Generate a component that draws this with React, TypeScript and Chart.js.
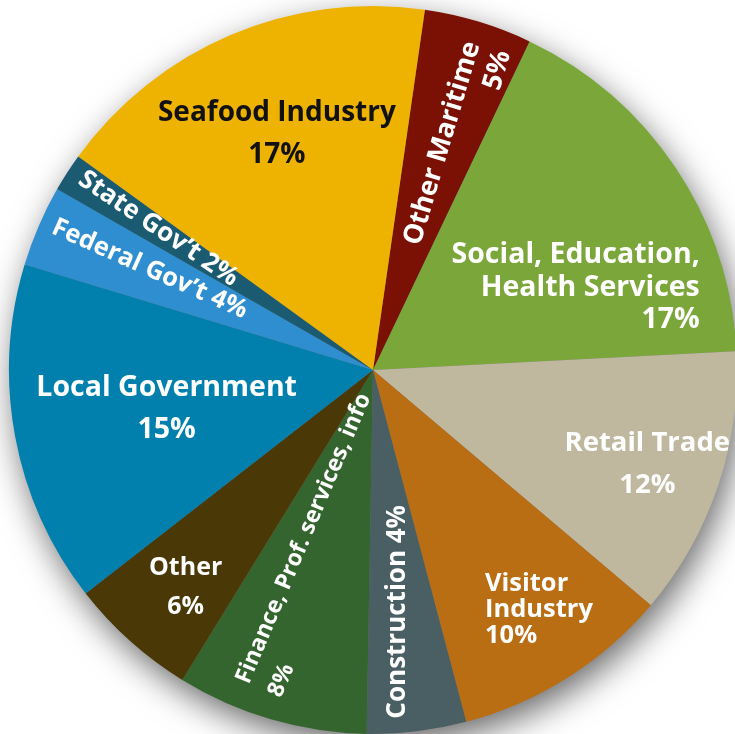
import React, { useEffect, useRef } from "react";
import { Chart, registerables } from "chart.js";

Chart.register(...registerables);

// ---- data ----
const categories = [
  "Other Maritime",
  "Social, Education, Health Services",
  "Retail Trade",
  "Visitor Industry",
  "Construction",
  "Finance, Prof. services, info",
  "Other",
  "Local Government",
  "Federal Gov't",
  "State Gov't",
  "Seafood Industry",
];
const shares = [4.8, 17.1, 12.0, 9.7, 4.4, 8.5, 5.7, 15.2, 3.6, 1.7, 17.3];
const labelLines = [
  ["Other Maritime", "5%"],
  ["Social, Education,", "Health Services", "17%"],
  ["Retail Trade", "12%"],
  ["Visitor", "Industry", "10%"],
  ["Construction 4%"],
  ["Finance, Prof. services, info", "8%"],
  ["Other", "6%"],
  ["Local Government", "15%"],
  ["Federal Gov\u2019t 4%"],
  ["State Gov\u2019t 2%"],
  ["Seafood Industry", "17%"],
];
const colors = [
  "#7a1104",
  "#7ba63a",
  "#bfb89f",
  "#b96e14",
  "#4a5f63",
  "#35652f",
  "#4a3806",
  "#0180ae",
  "#2f8ecf",
  "#1a5b72",
  "#eeb200",
];

// label layout: offset angle from slice middle (deg), radius (px), rotation (deg), align, font size, line height, colour
const labelLayout = [
  { dA: 2.7, r: 343, rot: -73.5, align: "right", size: 27, lh: 32, color: "#fff" },
  { dA: 19.6, r: 337, rot: 0, align: "right", size: 28.5, lh: 32.5, color: "#fff" },
  { dA: 0.3, r: 290, rot: 0, align: "center", size: 27.5, lh: 42, color: "#fff" },
  { dA: 7.3, r: 265, rot: 0, align: "left", size: 25.5, lh: 26, color: "#fff" },
  { dA: 1.2, r: 243, rot: -90, align: "center", size: 26, lh: 30, color: "#fff" },
  { dA: 3.4, r: 339, rot: -67, align: "left", size: 23, lh: 35, color: "#fff" },
  { dA: -1.1, r: 287, rot: 0, align: "center", size: 25, lh: 39, color: "#fff" },
  { dA: -0.2, r: 210, rot: 0, align: "center", size: 28.5, lh: 42, color: "#fff" },
  { dA: 1.0, r: 245, rot: 24, align: "center", size: 25.5, lh: 30, color: "#fff" },
  { dA: 0.5, r: 257, rot: 33.8, align: "center", size: 26, lh: 30, color: "#fff" },
  { dA: 0.8, r: 255, rot: 0, align: "center", size: 28, lh: 42, color: "#111" },
];

const FONT = "'Open Sans', Lato, sans-serif";

const shadowPlugin = {
  id: "pieShadow",
  beforeDatasetsDraw(chart: any) {
    const meta = chart.getDatasetMeta(0);
    const arc = meta.data[0];
    if (!arc) return;
    const { x, y, outerRadius } = arc.getProps(["x", "y", "outerRadius"], true);
    const ctx = chart.ctx;
    ctx.save();
    ctx.shadowColor = "rgba(0,0,0,0.6)";
    ctx.shadowBlur = 34;
    ctx.shadowOffsetX = 5;
    ctx.shadowOffsetY = 12;
    ctx.beginPath();
    ctx.arc(x, y, outerRadius - 1, 0, Math.PI * 2);
    ctx.fillStyle = "#777";
    ctx.fill();
    ctx.restore();
  },
};

const labelPlugin = {
  id: "sliceLabels",
  afterDatasetsDraw(chart: any) {
    const meta = chart.getDatasetMeta(0);
    const ctx = chart.ctx;
    meta.data.forEach((arc: any, i: number) => {
      const p = arc.getProps(["x", "y", "startAngle", "endAngle", "outerRadius"], true);
      const L = labelLayout[i];
      const mid = (p.startAngle + p.endAngle) / 2 + (L.dA * Math.PI) / 180;
      const ax = p.x + Math.cos(mid) * L.r;
      const ay = p.y + Math.sin(mid) * L.r;
      const lines = labelLines[i];
      ctx.save();
      ctx.translate(ax, ay);
      ctx.rotate((L.rot * Math.PI) / 180);
      ctx.font = `bold ${L.size}px ${FONT}`;
      ctx.fillStyle = L.color;
      ctx.textAlign = L.align;
      ctx.textBaseline = "middle";
      lines.forEach((t: string, k: number) => {
        ctx.fillText(t, 0, (k - (lines.length - 1) / 2) * L.lh);
      });
      ctx.restore();
    });
  },
};

export default function App() {
  const ref = useRef<HTMLCanvasElement | null>(null);
  useEffect(() => {
    if (!ref.current) return;
    const chart = new Chart(ref.current, {
      type: "pie",
      data: {
        labels: categories,
        datasets: [
          {
            data: shares,
            backgroundColor: colors,
            borderWidth: 0,
            radius: 364,
            clip: false,
          } as any,
        ],
      },
      options: {
        responsive: false,
        animation: false,
        rotation: 8.2,
        layout: { padding: { left: 11, right: 0, top: 6, bottom: 0 } },
        plugins: {
          legend: { display: false },
          tooltip: { enabled: false },
        },
      } as any,
      plugins: [shadowPlugin, labelPlugin],
    });
    return () => chart.destroy();
  }, []);
  return (
    <div
      style={{
        position: "fixed",
        left: 0,
        top: 0,
        width: 735,
        height: 734,
        overflow: "hidden",
        background: "#fff",
      }}
    >
      <canvas ref={ref} width={735} height={734} style={{ width: 735, height: 734, display: "block" }} />
    </div>
  );
}
